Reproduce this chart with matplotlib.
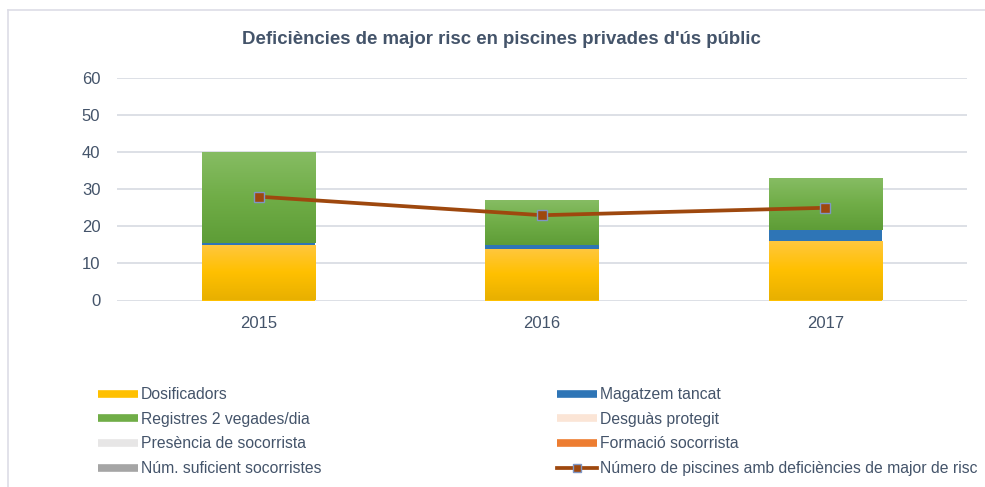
import matplotlib
matplotlib.use("Agg")
import matplotlib.pyplot as plt
import numpy as np
from matplotlib.lines import Line2D
from matplotlib.colors import LinearSegmentedColormap

plt.rcParams['font.family'] = ['Liberation Sans', 'DejaVu Sans']

years = ["2015", "2016", "2017"]
dosificadors = [15, 14, 16]
magatzem = [0.5, 1, 3]
registres = [24.5, 12, 14]
desguas = [0, 0, 0]
presencia = [0, 0, 0]
formacio = [0, 0, 0]
num_socorristes = [0, 0, 0]
num_piscines = [28, 23, 25]

title = "Deficiències de major risc en piscines privades d'ús públic"
text_color = "#44546A"

W, H = 985, 487
fig = plt.figure(figsize=(W / 100, H / 100), dpi=100)
ax = fig.add_axes([117 / W, 1 - 300.5 / H, (967 - 117) / W, (300.5 - 78) / H])

x = np.arange(len(years))
width = 0.4

series = [
    ("Dosificadors", dosificadors, "#FFC000", ("#FFC73F", "#FFC000", "#E8B000")),
    ("Magatzem tancat", magatzem, "#2E75B6", None),
    ("Registres 2 vegades/dia", registres, "#70AD47", ("#86BC63", "#70AD47", "#5E9D37")),
    ("Desguàs protegit", desguas, "#FBE5D6", None),
    ("Presència de socorrista", presencia, "#E7E6E6", None),
    ("Formació socorrista", formacio, "#ED7D31", None),
    ("Núm. suficient socorristes", num_socorristes, "#A5A5A5", None),
]

bottom = np.zeros(len(years))
for name, vals, col, grad in series:
    vals = np.array(vals, dtype=float)
    bars = ax.bar(x, vals, width, bottom=bottom, color=col, linewidth=0, zorder=2)
    if grad is not None:
        cmap = LinearSegmentedColormap.from_list("g", list(grad))
        for b in bars:
            if b.get_height() <= 0:
                continue
            x0, y0 = b.get_x(), b.get_y()
            w, h = b.get_width(), b.get_height()
            grad_img = np.linspace(1, 0, 100).reshape(-1, 1)
            im = ax.imshow(grad_img, extent=(x0, x0 + w, y0, y0 + h), aspect='auto',
                           cmap=cmap, vmin=0, vmax=1, origin='lower', zorder=2.1,
                           interpolation='bilinear')
            im.set_clip_path(b)
    bottom += vals

ax.plot(x, num_piscines, color="#9E480E", lw=2.7, marker='s', markersize=6.5,
        markerfacecolor="#9E480E", markeredgecolor="#7F96C4", markeredgewidth=1.0,
        zorder=4)

ax.set_xlim(-0.5, 2.5)
ax.set_ylim(0, 60)
ax.set_yticks(np.arange(0, 61, 10))
ax.set_xticks(x)
ax.set_xticklabels(years)
ax.yaxis.grid(True, color="#DDE0E6", lw=1.4, zorder=0)
ax.set_axisbelow(True)
for s in ax.spines.values():
    s.set_visible(False)
ax.tick_params(axis='both', length=0, labelsize=12, colors=text_color)
ax.tick_params(axis='y', pad=12)
ax.tick_params(axis='x', pad=11)

fig.text(501 / W, 1 - 39 / H, title, ha='center', va='center', fontsize=13.4,
         fontweight='bold', color=text_color)

# chart border (left and top)
fig.add_artist(Line2D([8 / W, 8 / W], [1 - 10 / H, 0], transform=fig.transFigure,
                      color="#DDDDE6", lw=1.2))
fig.add_artist(Line2D([8 / W, 1], [1 - 10 / H, 1 - 10 / H], transform=fig.transFigure,
                      color="#DDDDE6", lw=1.2))

def patch_handle(col):
    return Line2D([0], [0], color=col, lw=5.5, solid_capstyle='butt')

left_items = [series[0], series[2], series[4], series[6]]
right_items = [series[1], series[3], series[5]]

h_left = [patch_handle(s[2]) for s in left_items]
l_left = [s[0] for s in left_items]
h_right = [patch_handle(s[2]) for s in right_items]
l_right = [s[0] for s in right_items]
h_right.append(Line2D([0], [0], color="#9E480E", lw=2.7, marker='s', markersize=5.5,
                      markerfacecolor="#9E480E", markeredgecolor="#7F96C4"))
l_right.append("Número de piscines amb deficiències de major de risc")

common = dict(loc='upper left', frameon=False, fontsize=11.3, borderpad=0,
              borderaxespad=0, handlelength=2.55, handletextpad=0.2,
              labelspacing=0.62, labelcolor=text_color)
leg1 = fig.legend(h_left, l_left, bbox_to_anchor=(98 / W, 1 - 387 / H), **common)
leg2 = fig.legend(h_right, l_right, bbox_to_anchor=(557 / W, 1 - 387 / H), **common)

fig.savefig("out.png", dpi=100)
